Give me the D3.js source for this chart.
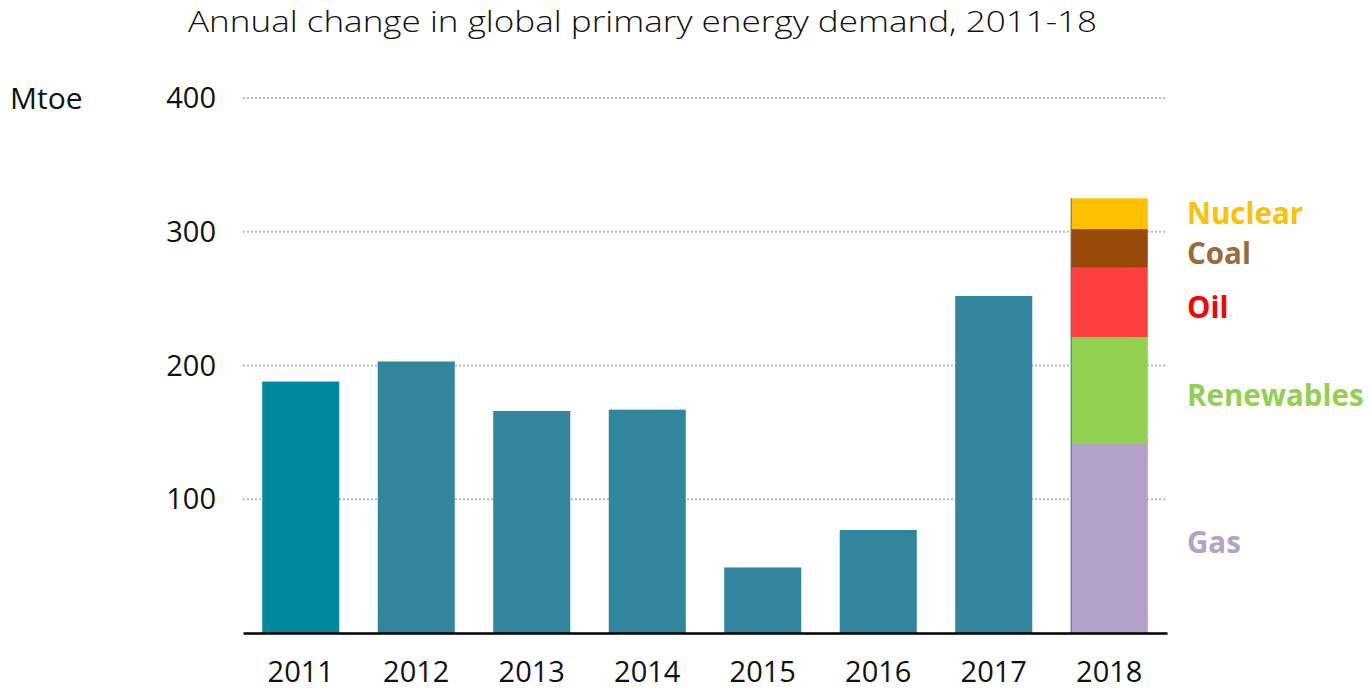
<!DOCTYPE html>
<html>
<head>
<meta charset="utf-8">
<script src="https://cdn.jsdelivr.net/npm/d3@7"></script>
<style>
  body { margin: 0; background: #fff; }
  svg { display: block; font-family: "Open Sans", "Noto Sans", sans-serif; }
</style>
</head>
<body>
<svg id="chart"></svg>
<script>
const years = ["2011", "2012", "2013", "2014", "2015", "2016", "2017"];
const demandChange = [188, 203, 166, 167, 49, 77, 252];
const lastYear = "2018";
const fuels = ["Gas", "Renewables", "Oil", "Coal", "Nuclear"];
const fuelChange2018 = [142, 79, 52, 29, 23];
const yTicks = [100, 200, 300, 400];

const width = 1369, height = 692;
const fuelFill = { Gas: "#b3a2c7", Renewables: "#92d050", Oil: "#ff4040", Coal: "#984807", Nuclear: "#ffc000" };
const fuelText = { Gas: "#b3a2c7", Renewables: "#92d050", Oil: "#ff0000", Coal: "#9c6a3a", Nuclear: "#ffc000" };

const svg = d3.select("#chart").attr("width", width).attr("height", height);

const x = d3.scaleBand()
    .domain(years.concat([lastYear]))
    .range([243, 1167])
    .paddingInner(0.333)
    .paddingOuter(0.1665);

const y = d3.scaleLinear().domain([0, 400]).range([633, 98]);

// title
svg.append("text")
    .attr("x", 188).attr("y", 32)
    .attr("textLength", 909)
    .attr("lengthAdjust", "spacingAndGlyphs")
    .style("font-size", "29px")
    .style("font-weight", 300)
    .style("fill", "#111")
    .text("Annual change in global primary energy demand, 2011-18");

// dotted grid
svg.append("g").selectAll("line")
    .data(yTicks)
    .enter().append("line")
    .attr("x1", 243).attr("x2", 1167)
    .attr("y1", d => y(d)).attr("y2", d => y(d))
    .style("stroke", "#bdbdbd")
    .style("stroke-width", 2)
    .style("stroke-dasharray", "2,2");

// y tick labels
svg.append("g").selectAll("text")
    .data(yTicks)
    .enter().append("text")
    .attr("x", 216)
    .attr("y", d => y(d))
    .attr("dy", "0.35em")
    .attr("text-anchor", "end")
    .style("font-size", "29px")
    .style("fill", "#111")
    .text(d => d);

svg.append("text")
    .attr("x", 10).attr("y", y(400)).attr("dy", "0.35em")
    .style("font-size", "30px")
    .style("fill", "#111")
    .text("Mtoe");

// bars 2011-17
svg.append("g").selectAll("rect")
    .data(years)
    .enter().append("rect")
    .attr("x", d => x(d))
    .attr("width", x.bandwidth())
    .attr("y", (d, i) => y(demandChange[i]))
    .attr("height", (d, i) => y(0) - y(demandChange[i]))
    .style("fill", (d, i) => i == 0 ? "#00889e" : "#31869e");

// stacked 2018
let acc = 0;
const stack = fuels.map((f, i) => {
    const s = { fuel: f, y0: acc, y1: acc + fuelChange2018[i] };
    acc += fuelChange2018[i];
    return s;
});

const g18 = svg.append("g");
g18.selectAll("rect")
    .data(stack)
    .enter().append("rect")
    .attr("x", x(lastYear))
    .attr("width", x.bandwidth())
    .attr("y", d => y(d.y1))
    .attr("height", d => y(d.y0) - y(d.y1))
    .style("fill", d => fuelFill[d.fuel]);

g18.append("line")
    .attr("x1", x(lastYear) + 0.5).attr("x2", x(lastYear) + 0.5)
    .attr("y1", y(acc)).attr("y2", y(0))
    .style("stroke", "#31869e")
    .style("stroke-width", 1);

g18.selectAll("text")
    .data(stack)
    .enter().append("text")
    .attr("x", 1187)
    .attr("y", d => (y(d.y0) + y(d.y1)) / 2 + (d.fuel == "Nuclear" ? 0 : 5))
    .attr("dy", "0.35em")
    .style("font-size", "29.5px")
    .style("font-weight", 700)
    .style("fill", d => fuelText[d.fuel])
    .text(d => d.fuel);

// x axis
const xAxis = svg.append("g")
    .attr("transform", "translate(0," + y(0) + ")")
    .call(d3.axisBottom(x).tickSize(0).tickPadding(28));
xAxis.select(".domain").style("stroke", "#000").style("stroke-width", 2.5);
xAxis.selectAll("text")
    .style("font-size", "29px")
    .style("font-family", "\"Open Sans\", sans-serif")
    .style("fill", "#111");
</script>
</body>
</html>
